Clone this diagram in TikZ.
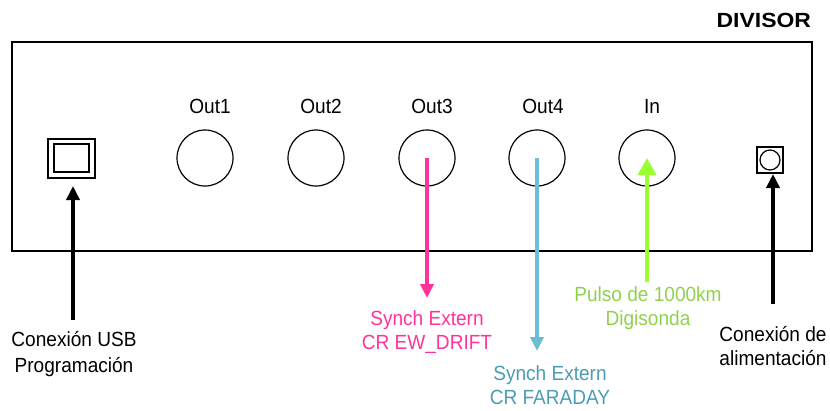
\documentclass[tikz,border=0pt]{standalone}
\usepackage{fontspec}
\setmainfont{Liberation Sans}[FakeStretch=0.93]
\newfontfamily\titlefont{Liberation Sans Bold}[FakeStretch=1.12]
\usetikzlibrary{arrows.meta}
\definecolor{pinkc}{HTML}{FF3399}
\definecolor{cyanline}{HTML}{6BBFD4}
\definecolor{cyantext}{HTML}{4A9DB3}
\definecolor{greenline}{HTML}{99FF33}
\definecolor{greentext}{HTML}{8FD14F}
\begin{document}
\begin{tikzpicture}[x=1pt,y=-1pt,
  every node/.style={inner sep=0pt,outer sep=0pt},
  frame/.style={draw,line width=1.2pt},
  jack/.style={draw,circle,line width=1.2pt,minimum size=56pt},
  lbl/.style={font=\fontsize{20.5}{24}\selectfont,align=center},
  conn/.style={line width=3.8pt,-{Triangle[length=14pt,width=13pt]}},
]
\useasboundingbox (0,0) rectangle (830,410);
% title
\node[font=\titlefont\fontsize{20.5}{24}\selectfont,anchor=east] (title) at (811,20) {DIVISOR};
% housing
\node[frame,anchor=north west,minimum width=800pt,minimum height=209pt] (box) at (12,42) {};
% USB connector
\node[frame,minimum width=47pt,minimum height=39pt] (usb) at (71.5,158.5) {};
\node[frame,minimum width=35pt,minimum height=28pt] (usbin) at (71.5,158) {};
% jacks
\node[jack] (o1) at (205,158) {};
\node[jack] (o2) at (316,158) {};
\node[jack] (o3) at (427,158) {};
\node[jack] (o4) at (537,158) {};
\node[jack] (in) at (647,158) {};
\node[lbl] (t1) at (210,106) {Out1};
\node[lbl] (t2) at (321,106) {Out2};
\node[lbl] (t3) at (432,106) {Out3};
\node[lbl] (t4) at (543,106) {Out4};
\node[lbl] (t5) at (652,106) {In};
% power connector
\node[frame,minimum width=26pt,minimum height=26pt] (pwr) at (770,160) {};
\node[draw,circle,line width=1.2pt,minimum size=20pt] (pwrin) at (770,160) {};
% bottom labels
\node[lbl,font=\fontsize{20.5}{26}\selectfont] (lusb) at (74,354) {Conexión USB\\Programación};
\node[lbl,text=pinkc] (lpink) at (427,332) {Synch Extern\\CR EW\_DRIFT};
\node[lbl,text=cyantext] (lcyan) at (550,385) {Synch Extern\\CR FARADAY};
\node[lbl,text=greentext] (lgreen) at (648,308.5) {Pulso de 1000km\\Digisonda};
\node[lbl] (lpwr) at (773,346) {Conexión de\\alimentación};
% arrow end points
\coordinate (usbtail) at (73,320);
\coordinate (usbtip) at (73,186);
\coordinate (pinktip) at (427,298);
\coordinate (cyantip) at (537,351);
\coordinate (greentail) at (647,282);
\coordinate (pwrtail) at (773,304);
\coordinate (pwrtip) at (773,174);
% connectors
\draw[conn] (usbtail) -- (usbtip);
\draw[conn,pinkc] (o3.center) -- (pinktip);
\draw[conn,cyanline] (o4.center) -- (cyantip);
\draw[conn,greenline,-{Triangle[length=17pt,width=18pt]}] (greentail) -- (in.center);
\draw[conn] (pwrtail) -- (pwrtip);
\end{tikzpicture}
\end{document}
